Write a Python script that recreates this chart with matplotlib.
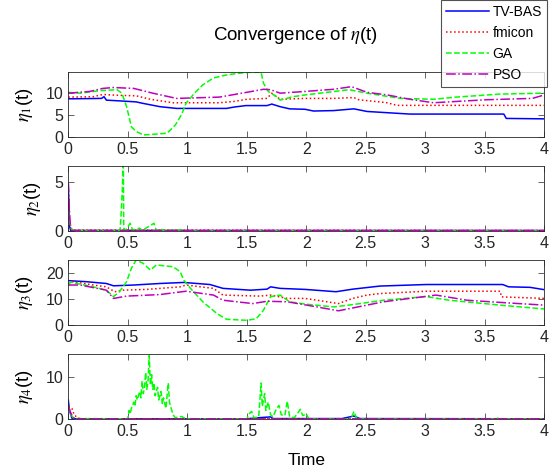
import numpy as np
import matplotlib
matplotlib.use('Agg')
import matplotlib.pyplot as plt

plt.rcParams['font.family'] = ['Liberation Sans', 'DejaVu Sans']
plt.rcParams['mathtext.fontset'] = 'stix'

# time axis and limits
x_ticks = [0, 0.5, 1, 1.5, 2, 2.5, 3, 3.5, 4]
x_tick_labels = ['0', '0.5', '1', '1.5', '2', '2.5', '3', '3.5', '4']
names = ['TV-BAS', 'fmicon', 'GA', 'PSO']

# eta_1(t), (time, value)
eta1_tvbas = [(0, 8.7), (0.28, 8.8), (0.30, 9.2), (0.32, 8.4), (0.45, 8.2), (0.57, 8.0), (0.62, 7.7),
              (0.77, 6.9), (0.91, 6.5), (1.33, 6.5), (1.39, 6.8), (1.49, 7.15), (1.67, 7.15), (1.71, 7.5),
              (1.78, 6.9), (1.86, 6.4), (1.99, 6.3), (2.06, 5.9), (2.23, 6.0), (2.40, 6.4), (2.51, 5.8),
              (2.75, 5.4), (2.87, 5.2), (3.66, 5.2), (3.68, 4.2), (4.0, 4.1)]
eta1_fmicon = [(0, 9.1), (0.21, 9.2), (0.29, 9.7), (0.43, 9.5), (0.57, 9.4), (0.69, 8.6), (0.88, 7.8),
               (1.27, 7.8), (1.39, 8.1), (1.50, 8.6), (1.67, 8.8), (1.71, 10.0), (1.78, 8.6), (1.99, 8.8),
               (2.23, 8.8), (2.40, 9.0), (2.44, 8.5), (2.68, 7.8), (2.76, 7.2), (4.0, 7.2)]
eta1_ga = [(0, 10.2), (0.10, 10.0), (0.27, 10.6), (0.41, 10.8), (0.45, 10.0), (0.49, 6.9), (0.53, 2.3),
           (0.57, 1.2), (0.63, 0.4), (0.74, 0.6), (0.83, 0.8), (0.90, 2.7), (0.95, 5.0), (0.99, 7.7),
           (1.06, 10.0), (1.13, 11.9), (1.22, 13.5), (1.33, 14.2), (1.44, 14.6), (1.53, 14.8), (1.62, 14.8),
           (1.64, 12.3), (1.68, 10.4), (1.75, 9.2), (1.78, 8.4), (1.89, 9.2), (1.99, 9.6), (2.36, 10.8),
           (2.51, 10.0), (2.79, 8.8), (3.07, 8.6), (3.26, 9.1), (3.63, 9.8), (4.0, 10.0)]
eta1_pso = [(0, 10.0), (0.18, 10.4), (0.29, 11.1), (0.38, 11.3), (0.55, 11.1), (0.71, 10.0), (0.91, 8.8),
            (1.27, 9.1), (1.50, 10.2), (1.64, 10.9), (1.70, 10.8), (1.78, 10.0), (1.99, 10.4), (2.23, 10.9),
            (2.38, 11.5), (2.51, 10.2), (2.68, 9.6), (2.87, 8.6), (3.07, 7.8), (3.26, 8.1), (3.52, 8.5),
            (3.90, 8.8), (4.0, 9.6)]

# eta_2(t)
eta2_tvbas = [(0, 4.8), (0.01, 0.5), (0.02, 0.05), (4.0, 0.05)]
eta2_fmicon = [(0, 3.6), (0.01, 1.0), (0.03, 0.1), (4.0, 0.05)]
eta2_ga = [(0, 2.0), (0.02, 0.3), (0.04, 0.05), (0.435, 0.05), (0.445, 2.0), (0.455, 4.5), (0.462, 8.0),
           (0.466, 0.3), (0.48, 0.05), (0.52, 0.8), (0.54, 0.1), (0.60, 0.3), (0.62, 0.05), (0.72, 0.8),
           (0.74, 0.05), (0.78, 0.2), (0.80, 0.05), (0.95, 0.1), (0.97, 0.02), (4.0, 0.02)]
eta2_pso = [(0, 5.0), (0.01, 2.0), (0.02, 0.05), (4.0, 0.05)]

# eta_3(t)
eta3_tvbas = [(0, 17.1), (0.15, 16.7), (0.32, 16.0), (0.38, 15.1), (0.55, 15.4), (0.77, 16.0), (0.97, 16.4),
              (1.19, 15.6), (1.30, 14.1), (1.53, 13.4), (1.67, 13.8), (1.70, 14.7), (1.78, 14.1), (1.99, 13.7),
              (2.25, 12.8), (2.39, 13.8), (2.62, 15.0), (3.01, 15.6), (3.65, 15.6), (3.70, 14.7), (3.88, 14.5),
              (4.0, 13.6)]
eta3_fmicon = [(0, 16.0), (0.04, 16.7), (0.21, 15.4), (0.32, 14.7), (0.39, 12.8), (0.46, 13.4), (0.66, 13.7),
               (0.94, 14.7), (0.99, 15.4), (1.22, 14.1), (1.30, 11.5), (1.61, 11.1), (1.70, 11.5), (1.84, 10.2),
               (1.99, 10.2), (2.09, 9.5), (2.27, 8.2), (2.39, 10.2), (2.51, 11.5), (2.62, 12.1), (3.01, 13.0),
               (3.63, 13.0), (3.64, 10.8), (4.0, 10.2)]
eta3_ga = [(0, 15.4), (0.02, 16.5), (0.21, 14.7), (0.32, 13.4), (0.38, 10.9), (0.43, 12.8), (0.49, 16.7),
           (0.53, 21.9), (0.57, 25.1), (0.63, 23.8), (0.69, 21.2), (0.74, 23.2), (0.88, 22.5), (0.94, 20.6),
           (0.97, 17.3), (1.04, 13.4), (1.13, 8.9), (1.25, 4.3), (1.33, 2.1), (1.50, 1.7), (1.58, 2.3),
           (1.64, 5.6), (1.70, 10.9), (1.78, 11.5), (1.86, 8.9), (1.99, 8.0), (2.23, 6.9), (2.39, 7.8),
           (2.65, 9.5), (3.01, 10.9), (3.20, 9.5), (3.63, 7.6), (4.0, 6.1)]
eta3_pso = [(0, 15.4), (0.10, 15.4), (0.32, 13.4), (0.38, 10.2), (0.49, 11.1), (0.77, 11.7), (0.99, 13.0),
            (1.22, 11.5), (1.30, 9.5), (1.55, 8.2), (1.67, 9.1), (1.84, 8.9), (1.99, 7.7), (2.09, 6.9),
            (2.27, 5.4), (2.39, 6.5), (2.65, 8.9), (2.87, 10.2), (3.09, 11.5), (3.35, 9.5), (3.68, 8.5),
            (4.0, 7.6)]

# eta_4(t)
eta4_tvbas = [(0, 4.5), (0.01, 2.0), (0.03, 0.2), (0.06, 0.05), (1.50, 0.05), (1.60, 0.3), (1.70, 0.5),
              (1.72, 0.1), (2.30, 0.1), (2.40, 0.7), (2.45, 0.1), (4.0, 0.05)]
eta4_fmicon = [(0, 3.0), (0.03, 2.5), (0.05, 1.0), (0.08, 0.2), (0.12, 0.05), (4.0, 0.05)]
eta4_ga = [(0, 3.0), (0.02, 1.0), (0.05, 0.1), (0.50, 0.05), (0.51, 2.0), (0.52, 1.2), (0.53, 2.5),
           (0.55, 4.0), (0.56, 3.0), (0.57, 5.5), (0.58, 4.5), (0.60, 6.5), (0.61, 5.0), (0.62, 9.0),
           (0.63, 6.0), (0.64, 7.5), (0.65, 11.0), (0.66, 7.0), (0.67, 9.0), (0.68, 15.0), (0.69, 8.0),
           (0.70, 10.5), (0.71, 7.0), (0.72, 8.5), (0.73, 5.5), (0.75, 7.5), (0.76, 4.5), (0.78, 6.5),
           (0.79, 3.5), (0.80, 5.0), (0.82, 2.5), (0.84, 8.5), (0.85, 4.0), (0.86, 3.0), (0.88, 1.0),
           (0.90, 0.3), (0.95, 0.6), (0.98, 0.2), (1.00, 0.0), (1.50, 0.0), (1.52, 1.2), (1.54, 1.8),
           (1.56, 0.3), (1.60, 0.5), (1.62, 8.5), (1.63, 3.0), (1.65, 6.0), (1.66, 2.0), (1.68, 4.0),
           (1.70, 1.0), (1.72, 0.5), (1.75, 2.5), (1.77, 3.2), (1.79, 1.0), (1.82, 0.8), (1.84, 4.2),
           (1.86, 0.5), (1.90, 0.3), (1.95, 2.3), (1.97, 0.8), (2.00, 1.2), (2.02, 0.1), (2.05, 0.0),
           (2.35, 0.0), (2.38, 0.3), (2.40, 1.8), (2.42, 0.3), (2.45, 0.0), (3.58, 0.0), (3.60, 0.3),
           (3.62, 0.0), (4.0, 0.0)]
eta4_pso = [(0, 3.0), (0.02, 1.5), (0.04, 0.3), (0.06, 0.05), (4.0, 0.05)]

panels = [
    (r'$\eta_1$(t)', [eta1_tvbas, eta1_fmicon, eta1_ga, eta1_pso], 14.8, [0, 5, 10]),
    (r'$\eta_2$(t)', [eta2_tvbas, eta2_fmicon, eta2_ga, eta2_pso], 6.7, [0, 5]),
    (r'$\eta_3$(t)', [eta3_tvbas, eta3_fmicon, eta3_ga, eta3_pso], 25, [0, 10, 20]),
    (r'$\eta_4$(t)', [eta4_tvbas, eta4_fmicon, eta4_ga, eta4_pso], 15.3, [0, 10]),
]
styles = [('b', '-'), ('r', ':'), ((0, 1, 0), '--'), ('m', '-.')]

fig = plt.figure(figsize=(5.52, 4.71), dpi=100)
W, H = 552.0, 471.0
tops = [72.3, 166, 260.3, 354.3]
bottoms = [136.7, 231, 324.7, 419]
left, right = 68.3, 544.3

handles = []
for i, (lab, series, ymax, yt) in enumerate(panels):
    ax = fig.add_axes([left / W, 1 - bottoms[i] / H, (right - left) / W, (bottoms[i] - tops[i]) / H])
    for s, (c, ls) in zip(series, styles):
        d = np.array(s)
        ln, = ax.plot(d[:, 0], d[:, 1], color=c, linestyle=ls, linewidth=1.1)
        if i == 0:
            handles.append(ln)
    ax.set_xlim(0, 4)
    ax.set_ylim(0, ymax)
    ax.set_xticks(x_ticks)
    ax.set_xticklabels(x_tick_labels)
    ax.set_yticks(yt)
    ax.set_ylabel(lab, fontsize=13.5, labelpad=8)
    ax.tick_params(direction='in', top=True, right=True, length=4, width=0.5,
                   labelsize=11.5, colors='#262626')
    for sp in ax.spines.values():
        sp.set_linewidth(0.6)
        sp.set_color('#262626')
    if i == 0:
        ax.set_title(r'Convergence of $\eta$(t)', fontsize=13.5, pad=23,
                     x=(296 - left) / (right - left))
    if i == 3:
        ax.set_xlabel('Time', fontsize=12.5, labelpad=10)

leg = fig.legend(handles, names, loc='upper left', bbox_to_anchor=(441 / W, 1.0),
                 fontsize=10, frameon=True, fancybox=False, borderaxespad=0,
                 handlelength=3.1, handletextpad=0.25, labelspacing=0.5, borderpad=0.35)
leg.get_frame().set_edgecolor('#262626')
leg.get_frame().set_linewidth(0.8)

fig.savefig('out.png', dpi=100)
